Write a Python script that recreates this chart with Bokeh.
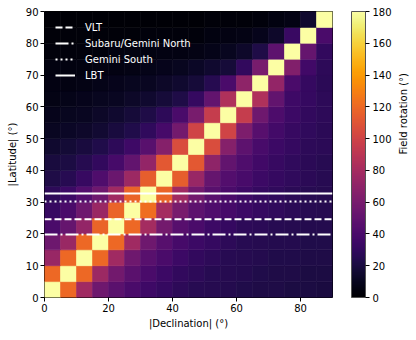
import numpy as np
from bokeh.plotting import figure
from bokeh.models import (ColumnDataSource, LinearColorMapper, ColorBar, LinearAxis,
                          FixedTicker, Range1d)
from bokeh.palettes import Inferno256
from bokeh.transform import transform
from bokeh.embed import file_html
from bokeh.resources import INLINE

# ---- data ----
bin_size = 5
dec_bins = list(range(0, 90, 5))   # |Declination| bin lower edges
lat_bins = list(range(0, 90, 5))   # |Latitude| bin lower edges

# field rotation (deg); one row per latitude bin (0-5 first), one column per declination bin
rotation = [
    [180, 120, 78, 56, 47, 40, 35, 31, 28, 26, 25, 24, 23, 22, 22, 21, 21, 20],
    [120, 180, 120, 76, 57, 47, 40, 34, 30, 28, 26, 25, 24, 23, 22, 22, 21, 21],
    [74, 120, 180, 120, 78, 56, 46, 40, 34, 30, 28, 26, 25, 24, 23, 23, 22, 22],
    [55, 75, 120, 180, 120, 78, 56, 45, 38, 34, 31, 28, 26, 25, 24, 24, 23, 23],
    [40, 52, 72, 118, 180, 120, 80, 58, 45, 40, 34, 31, 28, 27, 26, 25, 24, 24],
    [32, 40, 55, 75, 118, 180, 122, 80, 60, 48, 42, 38, 34, 31, 29, 27, 26, 25],
    [28, 34, 44, 56, 78, 118, 180, 118, 78, 57, 46, 40, 35, 31, 29, 27, 26, 25],
    [22, 26, 32, 42, 54, 76, 115, 180, 115, 74, 52, 44, 39, 34, 31, 29, 27, 26],
    [19, 21, 25, 30, 38, 50, 72, 112, 180, 112, 70, 50, 42, 36, 32, 29, 27, 26],
    [15, 17, 19, 23, 28, 35, 46, 66, 106, 180, 106, 66, 48, 39, 34, 31, 28, 27],
    [11, 12, 14, 16, 19, 23, 29, 38, 58, 100, 180, 100, 62, 45, 37, 32, 29, 27],
    [9, 10, 11, 13, 15, 18, 22, 28, 40, 60, 95, 180, 95, 56, 41, 34, 30, 28],
    [7, 8, 9, 10, 11, 13, 15, 18, 22, 31, 50, 85, 180, 85, 50, 35, 31, 28],
    [6, 6, 7, 8, 9, 10, 11, 13, 15, 18, 25, 40, 70, 180, 72, 40, 31, 27],
    [5, 5, 5, 6, 6, 7, 8, 9, 10, 12, 15, 18, 30, 60, 180, 64, 36, 28],
    [4, 4, 4, 4, 5, 5, 5, 6, 6, 7, 8, 10, 14, 22, 48, 180, 52, 30],
    [3, 3, 3, 3, 3, 3, 4, 4, 4, 4, 5, 6, 7, 9, 14, 33, 180, 40],
    [2, 2, 2, 2, 2, 2, 2, 2, 2, 2, 3, 3, 3, 4, 5, 7, 15, 180],
]

site_names = ["VLT", "Subaru/Gemini North", "Gemini South", "LBT"]
site_lat = [24.63, 19.82, 30.24, 32.70]
site_dash = ["7 3", "13 3 2 3", "2 3", "solid"]

cbar_ticks = [0, 20, 40, 60, 80, 100, 120, 140, 160, 180]

# ---- build cell table ----
xs, ys, vs = [], [], []
for i, lat0 in enumerate(lat_bins):
    for j, dec0 in enumerate(dec_bins):
        xs.append(dec0 + bin_size / 2)
        ys.append(lat0 + bin_size / 2)
        vs.append(rotation[i][j])
src = ColumnDataSource(dict(x=xs, y=ys, v=vs))

mapper = LinearColorMapper(palette=Inferno256, low=0, high=180)

FONT = "DejaVu Sans"
FH = 286
p = figure(frame_width=288, frame_height=FH, x_range=Range1d(0, 90), y_range=Range1d(0, 90),
           output_backend="svg", toolbar_location=None,
           min_border_top=11, min_border_left=44, min_border_bottom=4, min_border_right=2)
p.rect(x="x", y="y", width=bin_size, height=bin_size, source=src,
       fill_color=transform("v", mapper), line_color=transform("v", mapper), line_width=0.6)

for name, lat, dash in zip(site_names, site_lat, site_dash):
    p.line(x=[0, 90], y=[lat, lat], line_color="white", line_width=2, line_dash=dash,
           legend_label=name)

p.xgrid.grid_line_color = None
p.ygrid.grid_line_color = None
p.outline_line_color = "black"
p.outline_line_width = 1
p.outline_line_alpha = 1

p.xaxis.ticker = FixedTicker(ticks=[0, 20, 40, 60, 80])
p.yaxis.ticker = FixedTicker(ticks=[0, 10, 20, 30, 40, 50, 60, 70, 80, 90])
p.xaxis.axis_label = "|Declination| (°)"
p.yaxis.axis_label = "|Latitude| (°)"
for ax in (p.xaxis[0], p.yaxis[0]):
    ax.major_label_text_font = FONT
    ax.major_label_text_font_size = "10px"
    ax.major_label_text_color = "black"
    ax.axis_label_text_font = FONT
    ax.axis_label_text_font_size = "10px"
    ax.axis_label_text_font_style = "normal"
    ax.axis_label_text_color = "black"
    ax.major_tick_out = 4
    ax.major_tick_in = 0
    ax.minor_tick_line_color = None
    ax.axis_line_color = None
    ax.major_label_standoff = 2
p.xaxis[0].axis_label_standoff = 3
p.yaxis[0].axis_label_standoff = 5

cb = ColorBar(color_mapper=mapper, ticker=FixedTicker(ticks=cbar_ticks), width=14, height=FH,
              padding=0, margin=0, major_tick_in=0, major_tick_out=4,
              major_tick_line_color="black", label_standoff=3,
              major_label_text_font=FONT, major_label_text_font_size="10px",
              major_label_text_color="black",
              bar_line_color="#555555", bar_line_width=1, background_fill_alpha=0,
              border_line_color=None, location=(19, 0))
p.add_layout(cb, "right")

lab_ax = LinearAxis(ticker=FixedTicker(ticks=[]), axis_label="Field rotation (°)",
                    axis_line_color=None, major_tick_line_color=None, minor_tick_line_color=None,
                    axis_label_text_font=FONT, axis_label_text_font_size="10px",
                    axis_label_text_font_style="normal", axis_label_text_color="black",
                    axis_label_standoff=9, axis_label_orientation=np.pi / 2)
p.add_layout(lab_ax, "right")

lg = p.legend[0]
lg.location = (11, FH - 9 - 62)
lg.background_fill_alpha = 0
lg.border_line_alpha = 0
lg.label_text_color = "white"
lg.label_text_font = FONT
lg.label_text_font_size = "10px"
lg.glyph_width = 20
lg.glyph_height = 14
lg.label_height = 14
lg.spacing = 2
lg.label_standoff = 10
lg.margin = 0
lg.padding = 0

open("out.html", "w").write(file_html(p, INLINE))
